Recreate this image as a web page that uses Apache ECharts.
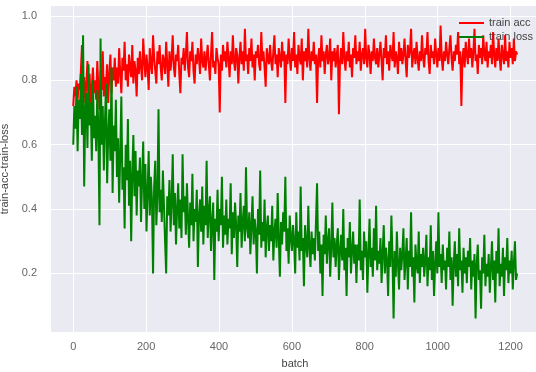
<!DOCTYPE html>
<html>
<head>
<meta charset="utf-8">
<script src="https://cdn.jsdelivr.net/npm/echarts@6/dist/echarts.min.js"></script>
<style>
    html, body { margin: 0; padding: 0; background: #ffffff; }
    #main { width: 536px; height: 372px; }
</style>
</head>
<body>
<div id="main"></div>
<script>
    // one value every 3 batches (20 values = 60 batches a row)
    var batchStep = 3;

    var trainAcc = [
        0.72,0.78,0.75,0.80,0.74,0.79,0.77,0.83,0.91,0.76,0.81,0.73,0.79,0.86,0.75,0.82,0.70,0.78,0.84,0.76,
        0.80,0.74,0.86,0.78,0.71,0.83,0.77,0.89,0.75,0.81,0.79,0.85,0.73,0.82,0.88,0.76,0.84,0.80,0.87,0.78,
        0.84,0.79,0.90,0.82,0.76,0.87,0.83,0.92,0.80,0.85,0.78,0.88,0.84,0.81,0.91,0.79,0.86,0.83,0.75,0.87,
        0.82,0.89,0.84,0.80,0.93,0.86,0.81,0.88,0.84,0.77,0.90,0.85,0.82,0.94,0.87,0.83,0.79,0.89,0.85,0.91,
        0.84,0.80,0.88,0.86,0.82,0.92,0.85,0.78,0.89,0.83,0.87,0.94,0.84,0.81,0.88,0.86,0.91,0.82,0.76,0.87,
        0.85,0.90,0.83,0.88,0.95,0.84,0.81,0.89,0.86,0.92,0.83,0.79,0.88,0.85,0.90,0.87,0.82,0.93,0.86,0.84,
        0.89,0.83,0.87,0.91,0.85,0.80,0.88,0.95,0.84,0.86,0.82,0.90,0.87,0.85,0.70,0.88,0.83,0.91,0.86,0.89,
        0.84,0.92,0.87,0.81,0.89,0.85,0.94,0.86,0.83,0.90,0.88,0.79,0.87,0.92,0.85,0.89,0.83,0.96,0.86,0.88,
        0.82,0.90,0.86,0.93,0.84,0.88,0.80,0.89,0.87,0.91,0.85,0.83,0.95,0.86,0.89,0.84,0.78,0.90,0.87,0.85,
        0.91,0.86,0.83,0.89,0.94,0.85,0.88,0.81,0.90,0.87,0.84,0.92,0.86,0.89,0.73,0.88,0.85,0.93,0.87,0.83,
        0.90,0.86,0.95,0.84,0.88,0.82,0.91,0.87,0.85,0.93,0.80,0.89,0.86,0.90,0.84,0.96,0.87,0.83,0.89,0.86,
        0.92,0.85,0.88,0.73,0.87,0.90,0.84,0.94,0.86,0.89,0.82,0.88,0.91,0.85,0.87,0.93,0.80,0.89,0.86,0.90,
        0.84,0.88,0.91,0.695,0.86,0.90,0.85,0.95,0.87,0.83,0.89,0.86,0.92,0.84,0.88,0.81,0.90,0.87,0.94,0.85,
        0.89,0.86,0.92,0.83,0.88,0.90,0.85,0.96,0.87,0.84,0.91,0.88,0.82,0.89,0.86,0.93,0.87,0.85,0.90,0.84,
        0.88,0.92,0.86,0.80,0.90,0.87,0.94,0.85,0.89,0.83,0.91,0.88,0.86,0.95,0.84,0.89,0.87,0.82,0.92,0.86,
        0.90,0.85,0.88,0.93,0.86,0.81,0.91,0.87,0.89,0.96,0.84,0.88,0.90,0.85,0.92,0.87,0.83,0.89,0.86,0.94,
        0.87,0.84,0.90,0.88,0.95,0.86,0.82,0.91,0.87,0.89,0.85,0.93,0.88,0.84,0.90,0.86,0.97,0.87,0.83,0.89,
        0.86,0.92,0.88,0.85,0.90,0.94,0.87,0.83,0.89,0.86,0.91,0.88,0.95,0.85,0.89,0.72,0.87,0.90,0.84,0.92,
        0.88,0.85,0.93,0.87,0.90,0.84,0.89,0.96,0.86,0.88,0.82,0.91,0.87,0.90,0.85,0.94,0.88,0.86,0.92,0.84,
        0.89,0.87,0.91,0.85,0.95,0.88,0.84,0.90,0.86,0.93,0.87,0.83,0.91,0.88,0.85,0.94,0.86,0.89,0.84,0.92,
        0.87,0.90,0.85,0.93,0.86,0.89,0.88
    ];

    var trainLoss = [
        0.60,0.72,0.65,0.78,0.58,0.74,0.68,0.82,0.63,0.94,0.47,0.70,0.76,0.59,0.85,0.66,0.73,0.55,0.80,0.62,
        0.69,0.58,0.77,0.64,0.35,0.93,0.60,0.72,0.52,0.67,0.79,0.48,0.63,0.71,0.55,0.84,0.45,0.66,0.58,0.74,
        0.50,0.62,0.42,0.57,0.75,0.46,0.53,0.34,0.60,0.49,0.68,0.41,0.55,0.30,0.51,0.63,0.44,0.58,0.38,0.52,
        0.47,0.56,0.36,0.49,0.61,0.40,0.54,0.33,0.45,0.58,0.38,0.50,0.43,0.20,0.47,0.55,0.35,0.44,0.71,0.39,
        0.46,0.36,0.52,0.41,0.30,0.20,0.44,0.38,0.49,0.33,0.42,0.57,0.35,0.45,0.29,0.40,0.48,0.34,0.43,0.31,
        0.57,0.39,0.44,0.32,0.48,0.37,0.28,0.42,0.35,0.51,0.30,0.40,0.36,0.46,0.22,0.38,0.43,0.33,0.47,0.29,
        0.41,0.35,0.55,0.31,0.39,0.44,0.27,0.36,0.42,0.18,0.37,0.33,0.46,0.30,0.40,0.35,0.50,0.28,0.38,0.32,
        0.43,0.29,0.37,0.34,0.48,0.26,0.39,0.31,0.42,0.35,0.22,0.38,0.33,0.45,0.28,0.36,0.41,0.30,0.53,0.34,
        0.31,0.39,0.26,0.35,0.44,0.29,0.37,0.33,0.20,0.40,0.32,0.52,0.28,0.36,0.30,0.43,0.25,0.34,0.38,0.27,
        0.35,0.30,0.41,0.24,0.33,0.37,0.28,0.45,0.31,0.19,0.36,0.29,0.39,0.33,0.50,0.27,0.34,0.23,0.38,0.31,
        0.27,0.35,0.30,0.20,0.39,0.28,0.33,0.24,0.47,0.27,0.31,0.16,0.35,0.29,0.25,0.41,0.28,0.22,0.33,0.26,
        0.31,0.24,0.36,0.48,0.27,0.33,0.20,0.29,0.13,0.32,0.26,0.38,0.23,0.30,0.34,0.19,0.28,0.42,0.25,0.31,
        0.22,0.29,0.34,0.18,0.27,0.32,0.24,0.40,0.21,0.28,0.13,0.31,0.25,0.36,0.20,0.27,0.33,0.23,0.29,0.17,
        0.29,0.24,0.43,0.21,0.27,0.18,0.33,0.25,0.30,0.14,0.26,0.37,0.22,0.28,0.19,0.34,0.24,0.41,0.21,0.27,
        0.23,0.31,0.17,0.26,0.35,0.20,0.28,0.24,0.13,0.30,0.22,0.38,0.25,0.06,0.27,0.19,0.33,0.23,0.15,0.28,
        0.21,0.26,0.34,0.18,0.24,0.31,0.15,0.27,0.22,0.39,0.19,0.25,0.11,0.29,0.23,0.20,0.33,0.17,0.26,0.22,
        0.28,0.19,0.24,0.32,0.16,0.25,0.21,0.35,0.18,0.27,0.13,0.23,0.30,0.20,0.39,0.22,0.26,0.17,0.29,0.21,
        0.24,0.15,0.28,0.22,0.33,0.18,0.25,0.10,0.23,0.30,0.19,0.26,0.16,0.34,0.21,0.24,0.14,0.28,0.20,0.25,
        0.17,0.27,0.22,0.31,0.15,0.24,0.19,0.26,0.06,0.23,0.29,0.18,0.21,0.09,0.25,0.20,0.32,0.16,0.23,0.19,
        0.26,0.14,0.22,0.30,0.18,0.24,0.11,0.27,0.20,0.34,0.16,0.23,0.19,0.28,0.13,0.25,0.21,0.31,0.17,0.24,
        0.20,0.27,0.15,0.23,0.30,0.18,0.20
    ];

    var xTicks = [0, 200, 400, 600, 800, 1000, 1200];
    var yTicks = [0.2, 0.4, 0.6, 0.8, 1.0];

    function toPairs(values) {
        var out = [];
        for (var i = 0; i < values.length; i++) {
            out.push([i * batchStep, values[i]]);
        }
        return out;
    }

    var fontName = 'Liberation Sans';
    var tickColor = '#666666';

    var myChart = echarts.init(document.getElementById('main'));
    var option = {
        animation: false,
        backgroundColor: '#ffffff',
        grid: {
            left: 51,
            top: 6,
            right: -3,
            bottom: 40,
            outerBoundsMode: 'none',
            containLabel: false,
            show: true,
            backgroundColor: '#eaeaf2',
            borderWidth: 0
        },
        legend: {
            orient: 'vertical',
            left: 454,
            top: 12,
            itemWidth: 25,
            itemHeight: 2,
            itemGap: 2,
            icon: 'rect',
            textStyle: { color: '#444444', fontSize: 11, fontFamily: fontName, lineHeight: 12 },
            data: ['train acc', 'train loss']
        },
        xAxis: {
            type: 'value',
            min: -61,
            max: 1278,
            name: 'batch',
            nameLocation: 'middle',
            nameGap: 26,
            nameTextStyle: { color: '#444444', fontSize: 11, fontFamily: fontName },
            axisLine: { show: false },
            axisTick: { show: false, customValues: xTicks },
            axisLabel: {
                customValues: xTicks, margin: 9,
                color: tickColor, fontSize: 11, fontFamily: fontName,
                formatter: function (v) { return String(v); }
            },
            splitLine: { show: true, lineStyle: { color: '#ffffff', width: 1 } }
        },
        yAxis: {
            type: 'value',
            min: 0.018,
            max: 1.031,
            name: 'train-acc-train-loss',
            nameLocation: 'middle',
            nameGap: 37,
            nameTextStyle: { color: '#444444', fontSize: 11, fontFamily: fontName },
            axisLine: { show: false },
            axisTick: { show: false, customValues: yTicks },
            axisLabel: {
                customValues: yTicks,
                margin: 14,
                color: tickColor, fontSize: 11, fontFamily: fontName,
                formatter: function (v) { return v.toFixed(1); }
            },
            splitLine: { show: true, lineStyle: { color: '#ffffff', width: 1 } }
        },
        series: [{
            name: 'train acc',
            type: 'line',
            data: toPairs(trainAcc),
            showSymbol: false,
            color: '#ff0000',
            lineStyle: { width: 2, color: '#ff0000' }
        }, {
            name: 'train loss',
            type: 'line',
            data: toPairs(trainLoss),
            showSymbol: false,
            color: '#008000',
            lineStyle: { width: 2, color: '#008000' }
        }]
    };
    myChart.setOption(option);
</script>
</body>
</html>
